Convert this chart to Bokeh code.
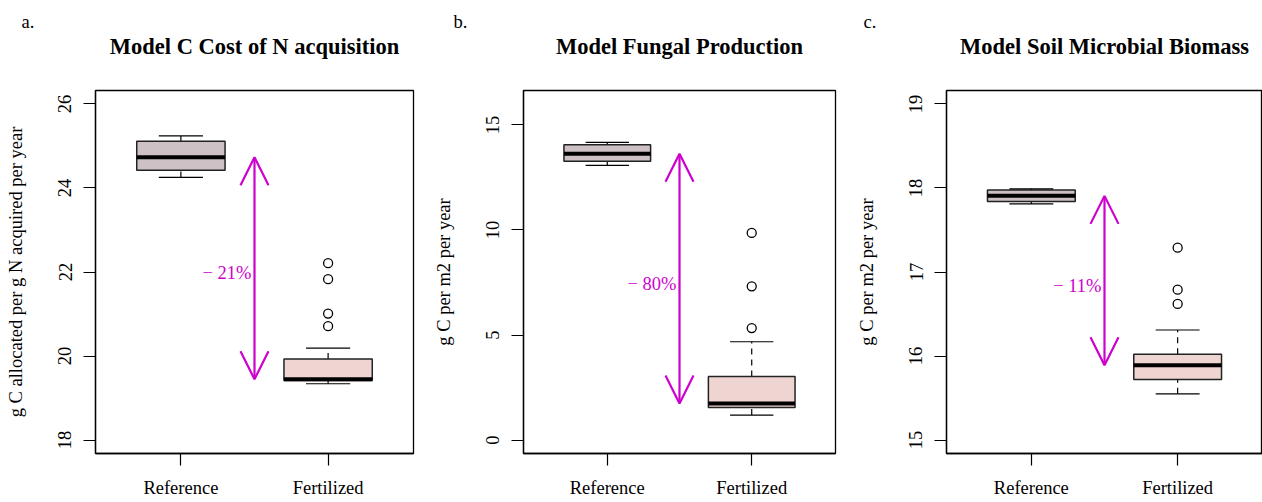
from bokeh.plotting import figure
from bokeh.layouts import row
from bokeh.models import ColumnDataSource, FixedTicker, Range1d, Arrow, OpenHead, Label, Title
from bokeh.embed import file_html
from bokeh.resources import INLINE

# Treatment groups and their box fills
groups = ["Reference", "Fertilized"]
group_fills = ["#CDC1C5", "#EED5D2"]

# Box statistics: [lower whisker, Q1, median, Q3, upper whisker]
cost_ref = [24.25, 24.42, 24.73, 25.11, 25.24]
cost_fert = [19.34, 19.42, 19.45, 19.93, 20.19]
cost_fert_outliers = [22.21, 21.83, 21.01, 20.71]

fungal_ref = [13.08, 13.27, 13.63, 14.06, 14.17]
fungal_fert = [1.19, 1.55, 1.74, 3.03, 4.68]
fungal_fert_outliers = [9.86, 7.32, 5.33]

microbe_ref = [17.81, 17.84, 17.906, 17.977, 17.99]
microbe_fert = [15.55, 15.72, 15.89, 16.02, 16.31]
microbe_fert_outliers = [17.29, 16.79, 16.62]

# Axis limits and ticks
cost_ylim = (18, 26)
cost_yticks = [18, 20, 22, 24, 26]
fungal_ylim = (0, 16)
fungal_yticks = [0, 5, 10, 15]
microbe_ylim = (15, 19)
microbe_yticks = [15, 16, 17, 18, 19]

# Texts
panel_tags = ["a.", "b.", "c."]
panel_titles = ["Model C Cost of N acquisition", "Model Fungal Production",
                "Model Soil Microbial Biomass"]
y_labels = ["g C allocated per g N acquired per year", "g C per m2 per year",
            "g C per m2 per year"]
change_labels = ["\u2212 21%", "\u2212 80%", "\u2212 11%"]

FONT = "Liberation Serif"
MAGENTA = "#CD00CD"
HALF_BOX = 0.3
HALF_CAP = 0.15
FRAME_TOP = 90
FRAME_H = 363
HEIGHT = 502


def panel(tag, title, ylabel, ylim, yticks, ref, fert, outliers, change,
          width, border_left, border_right, tag_dx):
    pad = 0.04 * (ylim[1] - ylim[0])
    p = figure(width=width, height=HEIGHT, output_backend="svg", toolbar_location=None,
               x_range=Range1d(0.42, 2.58),
               y_range=Range1d(ylim[0] - pad, ylim[1] + pad),
               min_border_left=border_left, min_border_right=border_right,
               min_border_top=FRAME_TOP, min_border_bottom=HEIGHT - FRAME_TOP - FRAME_H)
    p.grid.visible = False
    p.outline_line_color = "black"
    p.outline_line_width = 1.3
    p.background_fill_color = "white"
    p.border_fill_color = "white"

    xs = [1, 2]
    stats = [ref, fert]
    src = ColumnDataSource(dict(
        x=xs,
        left=[x - HALF_BOX for x in xs],
        right=[x + HALF_BOX for x in xs],
        cap_l=[x - HALF_CAP for x in xs],
        cap_r=[x + HALF_CAP for x in xs],
        low=[s[0] for s in stats],
        q1=[s[1] for s in stats],
        med=[s[2] for s in stats],
        q3=[s[3] for s in stats],
        high=[s[4] for s in stats],
        fill=group_fills,
    ))

    # whiskers
    p.segment(x0="x", y0="q3", x1="x", y1="high", source=src,
              line_color="black", line_width=1.2, line_dash="6 5")
    p.segment(x0="x", y0="low", x1="x", y1="q1", source=src,
              line_color="black", line_width=1.2, line_dash="6 5")
    # boxes
    p.quad(left="left", right="right", bottom="q1", top="q3", source=src,
           fill_color="fill", line_color="#222222", line_width=1.5)
    # medians
    p.segment(x0="left", y0="med", x1="right", y1="med", source=src,
              line_color="black", line_width=4, line_cap="butt")
    # caps
    p.segment(x0="cap_l", y0="high", x1="cap_r", y1="high", source=src,
              line_color="black", line_width=1.2)
    p.segment(x0="cap_l", y0="low", x1="cap_r", y1="low", source=src,
              line_color="black", line_width=1.2)
    # outliers
    p.scatter(x=[xs[1]] * len(outliers), y=outliers, marker="circle", size=9,
              fill_alpha=0, line_color="black", line_width=1.3)

    # change arrow between medians
    xm = (xs[0] + xs[1]) / 2
    p.add_layout(Arrow(start=OpenHead(size=28, line_color=MAGENTA, line_width=2.2),
                       end=OpenHead(size=28, line_color=MAGENTA, line_width=2.2),
                       x_start=xm, y_start=ref[2], x_end=xm, y_end=fert[2],
                       line_color=MAGENTA, line_width=2.2))
    p.add_layout(Label(x=xm, y=(ref[2] + fert[2]) / 2, text=change,
                       text_align="right", text_baseline="middle",
                       x_offset=-3, y_offset=-5,
                       text_font=FONT, text_font_size="18.5px", text_color=MAGENTA))

    # axes
    p.yaxis.ticker = FixedTicker(ticks=yticks)
    p.yaxis.major_label_orientation = "vertical"
    p.xaxis.ticker = FixedTicker(ticks=xs)
    p.xaxis.major_label_overrides = {x: g for x, g in zip(xs, groups)}
    p.yaxis.axis_label = ylabel
    for ax in (p.xaxis[0], p.yaxis[0]):
        ax.minor_tick_line_color = None
        ax.major_tick_in = 0
        ax.major_tick_out = 12
        ax.major_tick_line_color = "black"
        ax.major_tick_line_width = 1.2
        ax.axis_line_color = "black"
        ax.axis_line_width = 1.3
        ax.major_label_text_font = FONT
        ax.major_label_text_font_size = "18.5px"
        ax.major_label_text_color = "black"
        ax.axis_label_text_font = FONT
        ax.axis_label_text_font_size = "18.5px"
        ax.axis_label_text_font_style = "normal"
        ax.axis_label_text_color = "black"
    p.yaxis.major_label_standoff = 12
    p.yaxis.axis_label_standoff = 30
    p.xaxis.major_label_standoff = 12

    # panel tag on the outside, main title next to the frame
    p.title = Title(text=tag, align="left", offset=tag_dx, standoff=-62,
                    text_font=FONT, text_font_style="normal",
                    text_font_size="18.5px", text_color="black")
    p.add_layout(Title(text=title, align="center", standoff=63, text_font=FONT,
                       text_font_style="bold", text_font_size="22.5px",
                       text_color="black"), "above")
    return p


pa = panel(panel_tags[0], panel_titles[0], y_labels[0], cost_ylim, cost_yticks,
           cost_ref, cost_fert, cost_fert_outliers, change_labels[0],
           430, 95, 17, -74)
pb = panel(panel_tags[1], panel_titles[1], y_labels[1], fungal_ylim, fungal_yticks,
           fungal_ref, fungal_fert, fungal_fert_outliers, change_labels[1],
           416, 87, 11, -70)
pc = panel(panel_tags[2], panel_titles[2], y_labels[2], microbe_ylim, microbe_yticks,
           microbe_ref, microbe_fert, microbe_fert_outliers, change_labels[2],
           416, 100, 0, -83)

layout = row(pa, pb, pc, spacing=0)
open("out.html", "w").write(file_html(layout, INLINE))
